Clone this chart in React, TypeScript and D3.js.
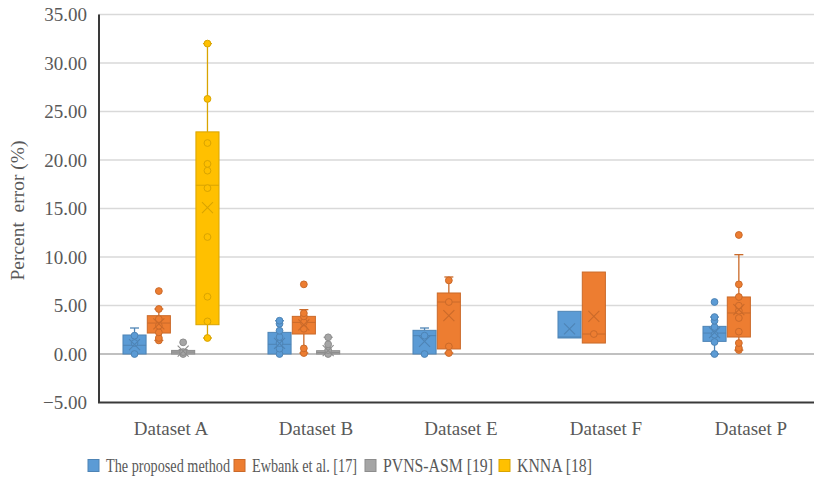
import React, { useEffect, useRef } from 'react';
import * as d3 from 'd3';

// ==== data

const categories = ['Dataset A', 'Dataset B', 'Dataset E', 'Dataset F', 'Dataset P'];
const seriesNames = ['The proposed method', 'Ewbank et al. [17]', 'PVNS-ASM [19]', 'KNNA [18]'];
const seriesColors = ['#5B9BD5', '#ED7D31', '#A5A5A5', '#FFC000'];
const yTicks = [-5, 0, 5, 10, 15, 20, 25, 30, 35];

// one entry per category: low / q1 / median / q3 / high whisker, mean, points, outliers
const proposed = [
    { low: 0, q1: 0, median: 0.9, q3: 1.96, high: 2.68, mean: 0.96, points: [0, 1.13, 1.89], outliers: [] },
    { low: 0, q1: 0, median: 1.0, q3: 2.23, high: 3.43, mean: 1.1, points: [0, 0.55, 1.13, 1.75, 2.4, 3.12, 3.43], outliers: [] },
    { low: 0, q1: 0, median: 1.89, q3: 2.44, high: 2.68, mean: 1.3, points: [0, 1.89], outliers: [] },
    { low: 1.65, q1: 1.65, median: 1.75, q3: 4.4, high: 4.4, mean: 2.6, points: [], outliers: [] },
    { low: 0, q1: 1.3, median: 2.16, q3: 2.85, high: 3.81, mean: 2.2, points: [0, 1.24, 1.99, 2.78, 3.43, 3.81], outliers: [5.36] },
];

const ewbank = [
    { low: 1.4, q1: 2.16, median: 3.19, q3: 3.95, high: 4.64, mean: 3.1, points: [1.4, 1.65, 2.23, 2.92, 3.6, 4.64], outliers: [6.49] },
    { low: 0.1, q1: 2.06, median: 3.26, q3: 3.88, high: 4.57, mean: 3.0, points: [0.1, 0.58, 2.6, 3.26, 3.88, 4.2], outliers: [7.18] },
    { low: 0.1, q1: 0.52, median: 5.36, q3: 6.29, high: 7.94, mean: 3.95, points: [0.1, 0.78, 5.36, 7.59], outliers: [] },
    { low: 1.13, q1: 1.13, median: 2.06, q3: 8.45, high: 8.45, mean: 3.88, points: [2.06], outliers: [] },
    { low: 0.4, q1: 1.75, median: 4.23, q3: 5.88, high: 10.24, mean: 4.57, points: [0.41, 0.62, 1.13, 2.3, 3.71, 4.46, 4.98, 5.88, 7.18], outliers: [12.27] },
];

const pvns = [
    { low: 0, q1: 0, median: 0.2, q3: 0.37, high: 0.45, mean: 0.3, points: [0, 0.2], outliers: [1.2] },
    { low: 0, q1: 0, median: 0.15, q3: 0.34, high: 1.72, mean: 0.35, points: [0, 0.4, 1.0, 1.72], outliers: [] },
    null,
    null,
    null,
];

const knna = [
    { low: 1.65, q1: 3.02, median: 17.4, q3: 22.9, high: 32.0, mean: 15.1, points: [1.65, 3.36, 5.9, 12.06, 17.1, 18.9, 19.6, 21.75, 26.3, 32.0], outliers: [] },
    null,
    null,
    null,
    null,
];

const allSeries = [proposed, ewbank, pvns, knna];

// ====

const FONT = '"Liberation Serif", "Times New Roman", serif';
const TEXT = '#595959';

// legend layout (the legend font in the original is a condensed serif)
const legendX = [88, 234, 365, 499];
const legendTextW = [124, 105, 110, 75];

function drawChart(node: SVGSVGElement) {
    const svg = d3.select(node);
    svg.selectAll('*').remove();

    const left = 98.5;
    const top = 14.5;
    const bottom = 402.5;
    const bandW = 145;

    const x = d3.scaleBand<string>()
        .domain(categories)
        .range([left, left + bandW * categories.length])
        .paddingInner(0)
        .paddingOuter(0);

    const inner = d3.scaleBand<number>()
        .domain(d3.range(seriesNames.length))
        .range([24, 121])
        .paddingInner(0.05)
        .paddingOuter(0.02);

    const y = d3.scaleLinear().domain([-5, 35]).range([bottom, top]);

    // gridlines
    svg.append('g')
        .selectAll('line')
        .data(yTicks.filter((t) => t > -5))
        .enter()
        .append('line')
        .attr('x1', left)
        .attr('x2', 814)
        .attr('y1', (d) => y(d))
        .attr('y2', (d) => y(d))
        .attr('stroke', (d) => (d === 0 ? '#ABABAB' : '#D9D9D9'))
        .attr('stroke-width', (d) => (d === 0 ? 1.5 : 1.3));

    // y tick labels
    svg.append('g')
        .selectAll('text')
        .data(yTicks)
        .enter()
        .append('text')
        .attr('x', 87)
        .attr('y', (d) => y(d))
        .attr('dy', '0.35em')
        .attr('text-anchor', 'end')
        .attr('font-family', FONT)
        .attr('font-size', 19)
        .attr('fill', TEXT)
        .text((d) => d3.format('.2f')(d));

    // y title
    svg.append('text')
        .attr('transform', `translate(24, ${(top + bottom) / 2 + 2}) rotate(-90)`)
        .attr('text-anchor', 'middle')
        .attr('font-family', FONT)
        .attr('font-size', 19.5)
        .attr('fill', TEXT)
        .style('white-space', 'pre')
        .text('Percent  error (%)');

    // category labels
    svg.append('g')
        .selectAll('text')
        .data(categories)
        .enter()
        .append('text')
        .attr('x', (d) => (x(d) as number) + inner(0)! + (inner(3)! + inner.bandwidth() - inner(0)!) / 2)
        .attr('y', 434.5)
        .attr('text-anchor', 'middle')
        .attr('font-family', FONT)
        .attr('font-size', 19)
        .attr('fill', TEXT)
        .text((d) => d);

    // boxes
    allSeries.forEach((ser, si) => {
        const color = seriesColors[si];
        const dark = d3.color(color)!.darker(0.45).formatHex();
        const g = svg.append('g');
        ser.forEach((b, ci) => {
            if (!b) return;
            const x0 = (x(categories[ci]) as number) + inner(si)!;
            const w = inner.bandwidth();
            const cx = x0 + w / 2;
            const cap = 4.5;

            // whiskers
            g.append('line')
                .attr('x1', cx).attr('x2', cx)
                .attr('y1', y(b.q3)).attr('y2', y(b.high))
                .attr('stroke', dark).attr('stroke-width', 1.3);
            g.append('line')
                .attr('x1', cx).attr('x2', cx)
                .attr('y1', y(b.q1)).attr('y2', y(b.low))
                .attr('stroke', dark).attr('stroke-width', 1.3);
            if (b.high > b.q3) {
                g.append('line')
                    .attr('x1', cx - cap).attr('x2', cx + cap)
                    .attr('y1', y(b.high)).attr('y2', y(b.high))
                    .attr('stroke', dark).attr('stroke-width', 1.3);
            }
            if (b.low < b.q1) {
                g.append('line')
                    .attr('x1', cx - cap).attr('x2', cx + cap)
                    .attr('y1', y(b.low)).attr('y2', y(b.low))
                    .attr('stroke', dark).attr('stroke-width', 1.3);
            }

            // box
            g.append('rect')
                .attr('x', x0)
                .attr('y', y(b.q3))
                .attr('width', w)
                .attr('height', Math.max(1.5, y(b.q1) - y(b.q3)))
                .attr('fill', color)
                .attr('stroke', dark)
                .attr('stroke-width', 1);

            // median
            g.append('line')
                .attr('x1', x0).attr('x2', x0 + w)
                .attr('y1', y(b.median)).attr('y2', y(b.median))
                .attr('stroke', dark).attr('stroke-width', 1);

            // points
            g.selectAll(null)
                .data(b.points.concat(b.outliers))
                .enter()
                .append('circle')
                .attr('cx', cx)
                .attr('cy', (d) => y(d))
                .attr('r', 3.4)
                .attr('fill', color)
                .attr('stroke', dark)
                .attr('stroke-width', 1);

            // mean marker
            const m = 5.5;
            const my = y(b.mean);
            g.append('path')
                .attr('d', `M${cx - m},${my - m}L${cx + m},${my + m}M${cx - m},${my + m}L${cx + m},${my - m}`)
                .attr('stroke', dark)
                .attr('stroke-width', 1.1)
                .attr('fill', 'none');
        });
    });

    // axis frame
    svg.append('path')
        .attr('d', `M${left + 0.5},${top}V${bottom}H814`)
        .attr('stroke', '#3A3A3A')
        .attr('stroke-width', 2)
        .attr('fill', 'none');

    // legend
    const legend = svg.append('g');
    const ly = 465.5;
    seriesNames.forEach((name, i) => {
        const lx = legendX[i];
        legend.append('rect')
            .attr('x', lx)
            .attr('y', ly - 6)
            .attr('width', 11)
            .attr('height', 12)
            .attr('fill', seriesColors[i])
            .attr('stroke', d3.color(seriesColors[i])!.darker(0.45).formatHex())
            .attr('stroke-width', 1);
        legend.append('text')
            .attr('x', lx + 18)
            .attr('y', ly)
            .attr('dy', '0.35em')
            .attr('font-family', FONT)
            .attr('font-size', 18)
            .attr('fill', TEXT)
            .attr('textLength', legendTextW[i])
            .attr('lengthAdjust', 'spacingAndGlyphs')
            .text(name);
    });
}

// ====

export default function App() {
    const ref = useRef<SVGSVGElement | null>(null);

    useEffect(() => {
        document.body.style.margin = '0';
        if (ref.current) drawChart(ref.current);
    }, []);

    return (
        <svg
            ref={ref}
            width={814}
            height={482}
            style={{ display: 'block', background: '#fff' }}>
        </svg>
    );
}
